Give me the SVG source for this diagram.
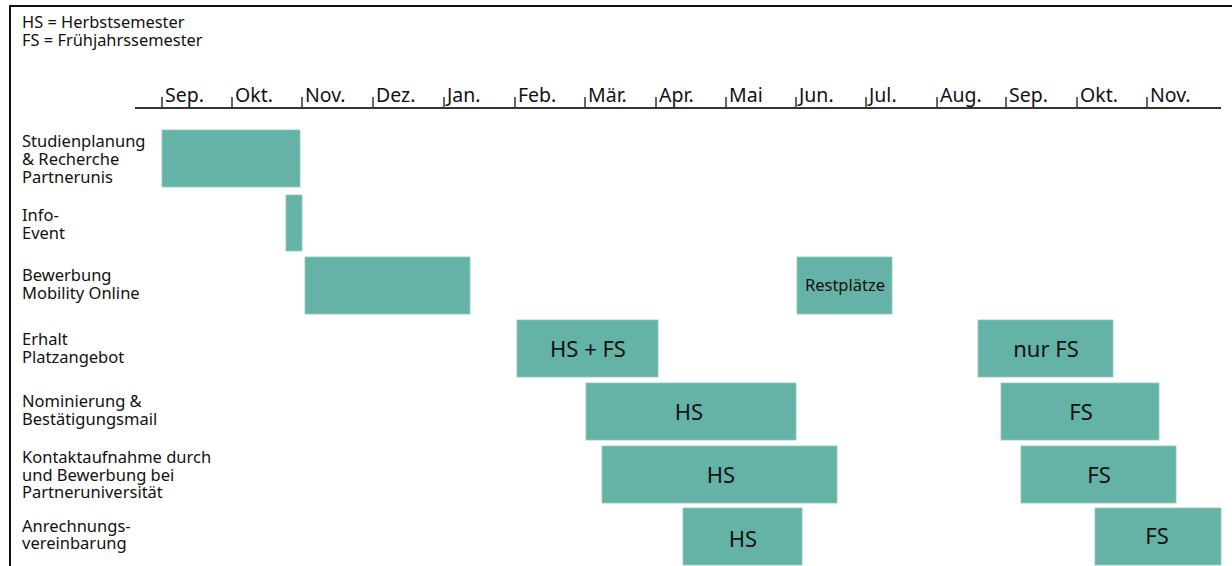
<svg xmlns="http://www.w3.org/2000/svg" width="1232" height="566" viewBox="0 0 1232 566">
<style>
text{font-family:"Noto Sans","Open Sans","Liberation Sans",sans-serif;fill:#111}
.lg{font-size:16.4px}
.lb{font-size:16.5px}
.mo{font-size:19.5px}
.bar{fill:#64b3a6;stroke:#8fcabf;stroke-width:0.8}
.bt{font-size:22px;text-anchor:middle}
.bs{font-size:16.5px;text-anchor:middle}
.ax{stroke:#333;stroke-width:2;fill:none}
.tk{stroke:#333;stroke-width:1.5}
</style>
<rect width="1232" height="566" fill="#fff"/>
<g id="frame">
<path d="M10 566 V6 H1232" stroke="#111" stroke-width="2" fill="none"/>
</g>
<g id="legend">
<text class="lg" x="22" y="28">HS = Herbstsemester</text>
<text class="lg" x="22" y="46">FS = Frühjahrssemester</text>
</g>
<g id="axis">
<line class="ax" x1="135" y1="108" x2="1221" y2="108"/>
<g class="tk">
<line x1="162" y1="97" x2="162" y2="108"/>
<line x1="232" y1="97" x2="232" y2="108"/>
<line x1="302" y1="97" x2="302" y2="108"/>
<line x1="373" y1="97" x2="373" y2="108"/>
<line x1="444" y1="97" x2="444" y2="108"/>
<line x1="515" y1="97" x2="515" y2="108"/>
<line x1="585" y1="97" x2="585" y2="108"/>
<line x1="656" y1="97" x2="656" y2="108"/>
<line x1="726" y1="97" x2="726" y2="108"/>
<line x1="796" y1="97" x2="796" y2="108"/>
<line x1="866" y1="97" x2="866" y2="108"/>
<line x1="937" y1="97" x2="937" y2="108"/>
<line x1="1006" y1="97" x2="1006" y2="108"/>
<line x1="1077" y1="97" x2="1077" y2="108"/>
<line x1="1147" y1="97" x2="1147" y2="108"/>
</g>
<text class="mo" x="165" y="102">Sep.</text>
<text class="mo" x="235" y="102">Okt.</text>
<text class="mo" x="305" y="102">Nov.</text>
<text class="mo" x="376" y="102">Dez.</text>
<text class="mo" x="447" y="102">Jan.</text>
<text class="mo" x="518" y="102">Feb.</text>
<text class="mo" x="588" y="102">Mär.</text>
<text class="mo" x="659" y="102">Apr.</text>
<text class="mo" x="729" y="102">Mai</text>
<text class="mo" x="799" y="102">Jun.</text>
<text class="mo" x="869" y="102">Jul.</text>
<text class="mo" x="940" y="102">Aug.</text>
<text class="mo" x="1009" y="102">Sep.</text>
<text class="mo" x="1080" y="102">Okt.</text>
<text class="mo" x="1150" y="102">Nov.</text>
</g>
<g id="row-studienplanung">
<text class="lb" x="22" y="147">Studienplanung</text>
<text class="lb" x="22" y="165">&amp; Recherche</text>
<text class="lb" x="22" y="183">Partnerunis</text>
<rect class="bar" x="162" y="130" width="138" height="57"/>
</g>
<g id="row-info-event">
<text class="lb" x="22" y="221">Info-</text>
<text class="lb" x="22" y="239">Event</text>
<rect class="bar" x="286" y="195" width="16" height="56"/>
</g>
<g id="row-bewerbung">
<text class="lb" x="22" y="281">Bewerbung</text>
<text class="lb" x="22" y="299">Mobility Online</text>
<rect class="bar" x="797" y="257" width="95" height="57"/>
<rect class="bar" x="305" y="257" width="165" height="57"/>
<text class="bs" x="845" y="291">Restplätze</text>
</g>
<g id="row-erhalt">
<text class="lb" x="22" y="345">Erhalt</text>
<text class="lb" x="22" y="363">Platzangebot</text>
<rect class="bar" x="517" y="320" width="141" height="57"/>
<text class="bt" x="588" y="357">HS + FS</text>
<rect class="bar" x="978" y="320" width="135" height="57"/>
<text class="bt" x="1046" y="357">nur FS</text>
</g>
<g id="row-nominierung">
<text class="lb" x="22" y="407">Nominierung &amp;</text>
<text class="lb" x="22" y="425">Bestätigungsmail</text>
<rect class="bar" x="586" y="383" width="210" height="57"/>
<text class="bt" x="689" y="420">HS</text>
<rect class="bar" x="1001" y="383" width="158" height="57"/>
<text class="bt" x="1081" y="420">FS</text>
</g>
<g id="row-kontakt">
<text class="lb" x="22" y="463">Kontaktaufnahme durch</text>
<text class="lb" x="22" y="481">und Bewerbung bei</text>
<text class="lb" x="22" y="498">Partneruniversität</text>
<rect class="bar" x="602" y="446" width="235" height="57"/>
<text class="bt" x="721" y="483">HS</text>
<rect class="bar" x="1021" y="446" width="155" height="57"/>
<text class="bt" x="1099" y="483">FS</text>
</g>
<g id="row-anrechnung">
<text class="lb" x="22" y="532">Anrechnungs-</text>
<text class="lb" x="22" y="549">vereinbarung</text>
<rect class="bar" x="683" y="508" width="119" height="57"/>
<text class="bt" x="743" y="547">HS</text>
<rect class="bar" x="1095" y="508" width="126" height="57"/>
<text class="bt" x="1157" y="544">FS</text>
</g>
</svg>
